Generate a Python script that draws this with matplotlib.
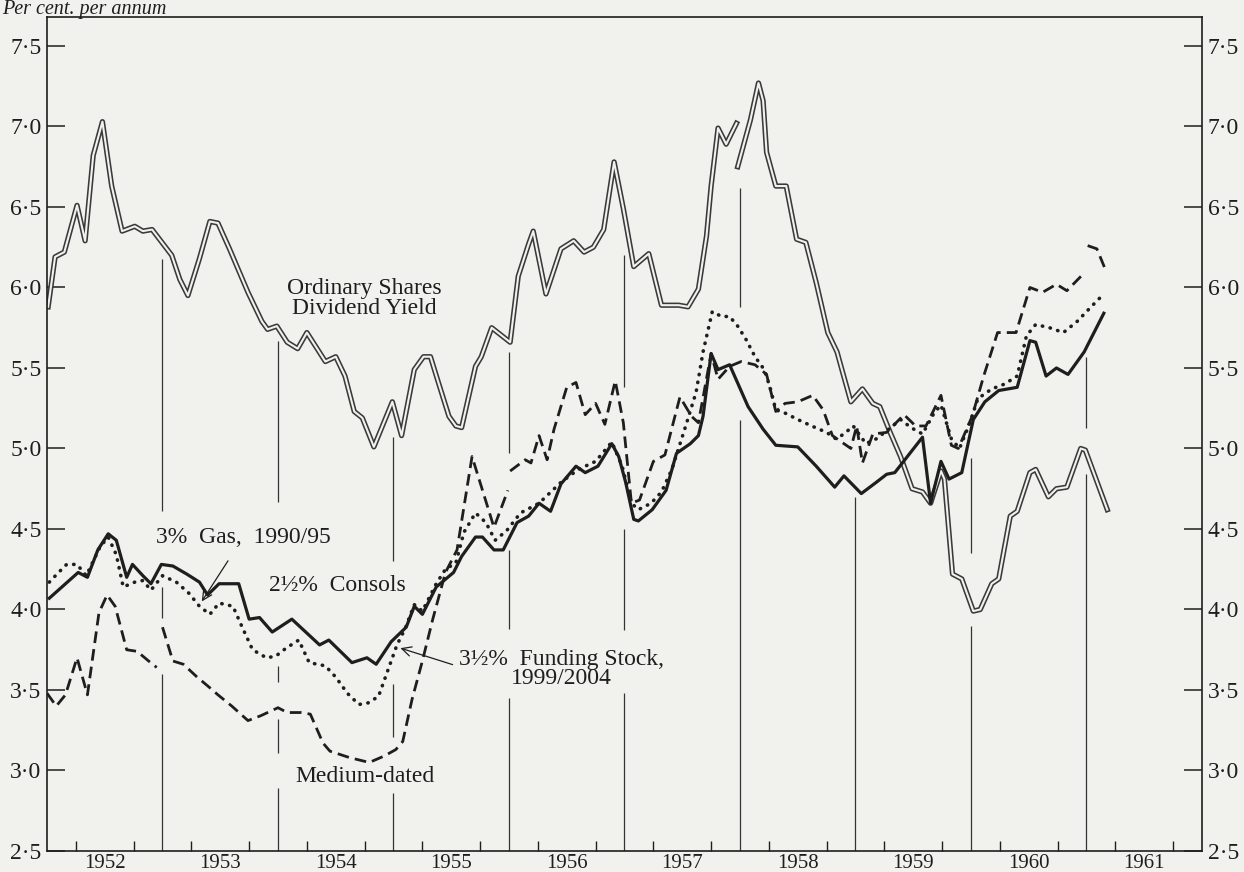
import numpy as np
import matplotlib.pyplot as plt

plt.rcParams['font.family'] = ['Liberation Serif', 'DejaVu Serif']

# ---- data (decimal years, per cent per annum) ----
ord1_x = [1952.01, 1952.07, 1952.15, 1952.26, 1952.33, 1952.40, 1952.48, 1952.56, 1952.65, 1952.76,
          1952.83, 1952.91, 1953.08, 1953.15, 1953.22, 1953.32, 1953.41, 1953.48, 1953.58, 1953.74,
          1953.86, 1953.91, 1953.99, 1954.08, 1954.17, 1954.25, 1954.41, 1954.50, 1954.58, 1954.66,
          1954.73, 1954.83, 1954.99, 1955.07, 1955.18, 1955.26, 1955.32, 1955.38, 1955.48, 1955.54,
          1955.59, 1955.71, 1955.76, 1955.85, 1956.01, 1956.08, 1956.17, 1956.21, 1956.32, 1956.45,
          1956.56, 1956.65, 1956.73, 1956.82, 1956.91, 1956.99, 1957.08, 1957.21, 1957.32, 1957.47,
          1957.55, 1957.64, 1957.71, 1957.75, 1957.81, 1957.88, 1957.97]
ord1_y = [5.88, 6.19, 6.22, 6.51, 6.29, 6.82, 7.03, 6.63, 6.35, 6.38,
          6.35, 6.36, 6.20, 6.05, 5.95, 6.18, 6.41, 6.40, 6.24, 5.97,
          5.79, 5.74, 5.76, 5.66, 5.62, 5.72, 5.54, 5.57, 5.45, 5.23,
          5.19, 5.01, 5.29, 5.08, 5.49, 5.57, 5.57, 5.43, 5.20, 5.14,
          5.13, 5.51, 5.57, 5.75, 5.66, 6.07, 6.27, 6.35, 5.96, 6.24,
          6.29, 6.22, 6.25, 6.36, 6.78, 6.49, 6.13, 6.21, 5.89, 5.89,
          5.88, 5.99, 6.32, 6.63, 6.99, 6.89, 7.02]
ord2_x = [1957.98, 1958.09, 1958.16, 1958.20, 1958.23, 1958.31, 1958.40, 1958.49, 1958.57, 1958.66,
          1958.76, 1958.84, 1958.89, 1958.96, 1959.06, 1959.15, 1959.21, 1959.30, 1959.39, 1959.49,
          1959.58, 1959.65, 1959.74, 1959.77, 1959.84, 1959.92, 1960.02, 1960.08, 1960.18, 1960.24,
          1960.34, 1960.40, 1960.51, 1960.56, 1960.67, 1960.74, 1960.83, 1960.95, 1960.99, 1961.18]
ord2_y = [6.75, 7.04, 7.27, 7.16, 6.84, 6.63, 6.63, 6.30, 6.28, 6.03,
          5.72, 5.60, 5.47, 5.29, 5.37, 5.28, 5.26, 5.10, 4.95, 4.75,
          4.73, 4.66, 4.86, 4.81, 4.22, 4.19, 3.99, 4.00, 4.16, 4.19,
          4.58, 4.61, 4.85, 4.87, 4.70, 4.75, 4.76, 5.00, 4.99, 4.62]

consols_x = [1952.02, 1952.27, 1952.35, 1952.44, 1952.53, 1952.60, 1952.69, 1952.74, 1952.83, 1952.90,
             1952.99, 1953.09, 1953.21, 1953.32, 1953.39, 1953.49, 1953.66, 1953.75, 1953.84, 1953.95,
             1954.12, 1954.27, 1954.36, 1954.44, 1954.64, 1954.77, 1954.85, 1954.98, 1955.11, 1955.18,
             1955.25, 1955.37, 1955.52, 1955.59, 1955.71, 1955.77, 1955.87, 1955.95, 1956.07, 1956.17,
             1956.26, 1956.36, 1956.45, 1956.58, 1956.66, 1956.77, 1956.89, 1956.95, 1957.01, 1957.08,
             1957.12, 1957.24, 1957.36, 1957.45, 1957.57, 1957.64, 1957.68, 1957.75, 1957.81, 1957.91,
             1958.07, 1958.20, 1958.31, 1958.50, 1958.66, 1958.82, 1958.90, 1959.05, 1959.18, 1959.27,
             1959.34, 1959.58, 1959.65, 1959.74, 1959.81, 1959.92, 1960.02, 1960.12, 1960.24, 1960.40,
             1960.51, 1960.56, 1960.65, 1960.74, 1960.84, 1960.98, 1961.15]
consols_y = [4.07, 4.23, 4.20, 4.37, 4.47, 4.43, 4.20, 4.28, 4.21, 4.16,
             4.28, 4.27, 4.22, 4.17, 4.09, 4.16, 4.16, 3.94, 3.95, 3.86,
             3.94, 3.84, 3.78, 3.81, 3.67, 3.70, 3.66, 3.80, 3.89, 4.02,
             3.97, 4.14, 4.23, 4.33, 4.45, 4.45, 4.37, 4.37, 4.54, 4.58,
             4.66, 4.61, 4.78, 4.89, 4.85, 4.89, 5.03, 4.95, 4.79, 4.56,
             4.55, 4.62, 4.74, 4.97, 5.03, 5.08, 5.20, 5.59, 5.49, 5.52,
             5.26, 5.12, 5.02, 5.01, 4.89, 4.76, 4.83, 4.72, 4.79, 4.84,
             4.85, 5.07, 4.66, 4.92, 4.81, 4.85, 5.18, 5.29, 5.36, 5.38,
             5.67, 5.66, 5.45, 5.50, 5.46, 5.60, 5.84]

dotted_x = [1952.02, 1952.10, 1952.17, 1952.26, 1952.34, 1952.46, 1952.53, 1952.60, 1952.66, 1952.76,
            1952.83, 1952.90, 1953.00, 1953.12, 1953.23, 1953.32, 1953.41, 1953.49, 1953.61, 1953.69,
            1953.78, 1953.90, 1953.98, 1954.07, 1954.18, 1954.27, 1954.41, 1954.50, 1954.60, 1954.70,
            1954.78, 1954.87, 1954.95, 1955.03, 1955.10, 1955.18, 1955.25, 1955.37, 1955.45, 1955.54,
            1955.61, 1955.71, 1955.80, 1955.88, 1955.98, 1956.10, 1956.26, 1956.45, 1956.60, 1956.75,
            1956.89, 1956.98, 1957.06, 1957.12, 1957.23, 1957.32, 1957.41, 1957.53, 1957.62, 1957.68,
            1957.76, 1957.84, 1957.91, 1957.98, 1958.05, 1958.13, 1958.21, 1958.26, 1958.31, 1958.39,
            1958.50, 1958.62, 1958.75, 1958.83, 1958.90, 1958.98, 1959.09, 1959.18, 1959.27, 1959.39,
            1959.48, 1959.58, 1959.68, 1959.74, 1959.83, 1959.90, 1959.98, 1960.06, 1960.18, 1960.29,
            1960.40, 1960.48, 1960.56, 1960.68, 1960.80, 1960.92, 1961.04, 1961.15]
dotted_y = [4.17, 4.23, 4.28, 4.28, 4.21, 4.39, 4.45, 4.34, 4.14, 4.17,
            4.18, 4.12, 4.21, 4.17, 4.10, 4.02, 3.97, 4.04, 4.02, 3.89,
            3.75, 3.70, 3.71, 3.76, 3.81, 3.67, 3.65, 3.58, 3.48, 3.41,
            3.42, 3.46, 3.62, 3.78, 3.88, 4.03, 3.99, 4.16, 4.25, 4.29,
            4.48, 4.60, 4.54, 4.43, 4.49, 4.60, 4.66, 4.79, 4.87, 4.92,
            5.04, 4.89, 4.66, 4.62, 4.66, 4.73, 4.87, 5.14, 5.35, 5.60,
            5.85, 5.82, 5.82, 5.76, 5.68, 5.57, 5.49, 5.38, 5.24, 5.22,
            5.18, 5.14, 5.10, 5.06, 5.09, 5.14, 5.03, 5.06, 5.11, 5.18,
            5.13, 5.09, 5.22, 5.27, 5.06, 5.00, 5.14, 5.31, 5.37, 5.40,
            5.45, 5.70, 5.77, 5.75, 5.72, 5.79, 5.88, 5.96]

med1_x = [1952.00, 1952.08, 1952.16, 1952.26, 1952.35, 1952.45, 1952.52, 1952.59, 1952.69, 1952.78,
          1952.88, 1952.95]
med1_y = [3.48, 3.40, 3.47, 3.70, 3.47, 3.98, 4.09, 4.02, 3.75, 3.74,
          3.68, 3.64]
med2_x = [1953.00, 1953.09, 1953.18, 1953.30, 1953.40, 1953.48, 1953.60, 1953.74, 1953.85, 1953.94,
          1954.00, 1954.08, 1954.20, 1954.28, 1954.39, 1954.45, 1954.62, 1954.79, 1954.92, 1955.02,
          1955.08, 1955.16, 1955.25, 1955.34, 1955.45, 1955.55, 1955.68, 1955.87, 1955.99]
med2_y = [3.89, 3.68, 3.66, 3.58, 3.52, 3.47, 3.40, 3.31, 3.34, 3.37,
          3.39, 3.36, 3.36, 3.35, 3.17, 3.12, 3.08, 3.05, 3.09, 3.13,
          3.18, 3.44, 3.68, 3.94, 4.23, 4.37, 4.95, 4.51, 4.74]
med3_x = [1956.01, 1956.14, 1956.19, 1956.26, 1956.33, 1956.39, 1956.50, 1956.58, 1956.66, 1956.75,
          1956.83, 1956.92, 1956.99, 1957.06, 1957.13, 1957.25, 1957.35, 1957.48, 1957.58, 1957.64,
          1957.75, 1957.81, 1957.91, 1958.01, 1958.13, 1958.23, 1958.31, 1958.39, 1958.50, 1958.63,
          1958.72, 1958.80, 1958.96, 1959.01, 1959.06, 1959.15, 1959.27, 1959.42, 1959.52, 1959.61,
          1959.74, 1959.83, 1959.89, 1960.01, 1960.11, 1960.23, 1960.39, 1960.51, 1960.62, 1960.74,
          1960.83, 1960.98]
med3_y = [4.86, 4.93, 4.91, 5.08, 4.93, 5.12, 5.38, 5.41, 5.21, 5.28,
          5.15, 5.42, 5.16, 4.66, 4.68, 4.92, 4.96, 5.32, 5.20, 5.16,
          5.59, 5.43, 5.51, 5.54, 5.52, 5.46, 5.23, 5.28, 5.29, 5.33,
          5.24, 5.08, 5.00, 5.14, 4.91, 5.09, 5.10, 5.21, 5.14, 5.14,
          5.33, 5.02, 5.00, 5.20, 5.45, 5.72, 5.72, 6.00, 5.97, 6.02,
          5.98, 6.09]
med4_x = [1961.01, 1961.09, 1961.17]
med4_y = [6.26, 6.24, 6.10]

# year rules, broken where curves and labels pass: (year, top, bottom)
rule_segments = [(1953, 6.18, 4.61), (1953, 4.14, 3.95), (1953, 3.60, 2.5),
                 (1954, 5.67, 4.67), (1954, 3.65, 3.55), (1954, 3.32, 3.11), (1954, 2.89, 2.5),
                 (1955, 5.07, 4.30), (1955, 3.54, 3.21), (1955, 2.86, 2.5),
                 (1956, 5.60, 4.97), (1956, 4.37, 3.88), (1956, 3.45, 2.5),
                 (1957, 6.20, 5.38), (1957, 4.50, 3.87), (1957, 3.48, 2.5),
                 (1958, 6.62, 5.88), (1958, 5.18, 2.5),
                 (1959, 4.70, 2.5),
                 (1960, 4.94, 4.35), (1960, 3.90, 2.5),
                 (1961, 5.57, 5.13), (1961, 4.84, 2.5)]

years = list(range(1952, 1962))
yticks = [2.5, 3.0, 3.5, 4.0, 4.5, 5.0, 5.5, 6.0, 6.5, 7.0, 7.5]

bg = '#f1f1ee'
ink = '#1e1e1e'

fig = plt.figure(figsize=(12.44, 8.72), dpi=100, facecolor=bg)
ax = fig.add_axes([47 / 1244, 1 - 851 / 872, (1202 - 47) / 1244, (851 - 17) / 872])
ax.set_facecolor(bg)
ax.set_xlim(1952, 1962)
ax.set_ylim(2.5, 7.68)

# year rules
ax.vlines([s[0] for s in rule_segments], [s[2] for s in rule_segments],
          [s[1] for s in rule_segments], color='#333333', lw=0.9)

# ordinary shares: hollow double line
for xs, ys in [(ord1_x, ord1_y), (ord2_x, ord2_y)]:
    ax.plot(xs, ys, color='#3a3a3a', lw=3.8, solid_joinstyle='round')
    ax.plot(xs, ys, color=bg, lw=1.5, solid_joinstyle='round')

ax.plot(consols_x, consols_y, color=ink, lw=2.3, solid_joinstyle='round')
ax.plot(dotted_x, dotted_y, color=ink, lw=2.6, linestyle=(0, (0.1, 2.1)),
        dash_capstyle='round')
for xs, ys in [(med1_x, med1_y), (med2_x, med2_y), (med3_x, med3_y), (med4_x, med4_y)]:
    ax.plot(xs, ys, color=ink, lw=2.0, linestyle=(0, (4.2, 2.2)), dash_capstyle='butt')

# labels
lab = dict(fontsize=17, color=ink)
ax.text(1954.75, 5.93, 'Ordinary Shares\nDividend Yield', ha='center', va='center',
        linespacing=0.95, **lab)
ax.annotate('3%  Gas,  1990/95', xy=(1953.34, 4.05), xytext=(1953.70, 4.45),
            ha='center', va='center',
            arrowprops=dict(arrowstyle='->', color=ink, lw=0.9, shrinkA=9, shrinkB=0),
            **lab)
ax.text(1954.51, 4.15, '2½%  Consols', ha='center', va='center', **lab)
ax.annotate('3½%  Funding Stock,', xy=(1955.06, 3.76), xytext=(1955.57, 3.69),
            ha='left', va='center',
            arrowprops=dict(arrowstyle='->', color=ink, lw=0.9, shrinkA=3, shrinkB=0,
                            relpos=(0.0, 0.15)),
            **lab)
ax.text(1956.02, 3.57, '1999/2004', ha='left', va='center', **lab)
ax.text(1954.75, 2.965, 'Medium-dated', ha='center', va='center', **lab)

fig.text(0.002, 1 - 14 / 872, 'Per cent. per annum', fontsize=14.5, style='italic',
         color=ink, ha='left', va='baseline')

# axes styling
for sp in ax.spines.values():
    sp.set_linewidth(1.2)
    sp.set_color(ink)

ax.set_yticks(yticks)
ax.set_yticklabels([f'{v:.1f}'.replace('.', '·') for v in yticks])
ax.tick_params(axis='y', direction='in', length=13, width=1.1, left=True, right=True,
               labelleft=True, labelright=True, labelsize=17, pad=4, colors=ink)

ax.set_xticks([y + 0.5 for y in years])
ax.set_xticklabels([str(y) for y in years])
ax.set_xticks([y + q / 4 for y in years for q in (1, 2, 3)], minor=True)
ax.tick_params(axis='x', which='major', length=0, labelsize=15, pad=2, colors=ink)
ax.tick_params(axis='x', which='minor', direction='in', length=7, width=1.0, colors=ink)

fig.savefig('out.png', dpi=100, facecolor=bg)
